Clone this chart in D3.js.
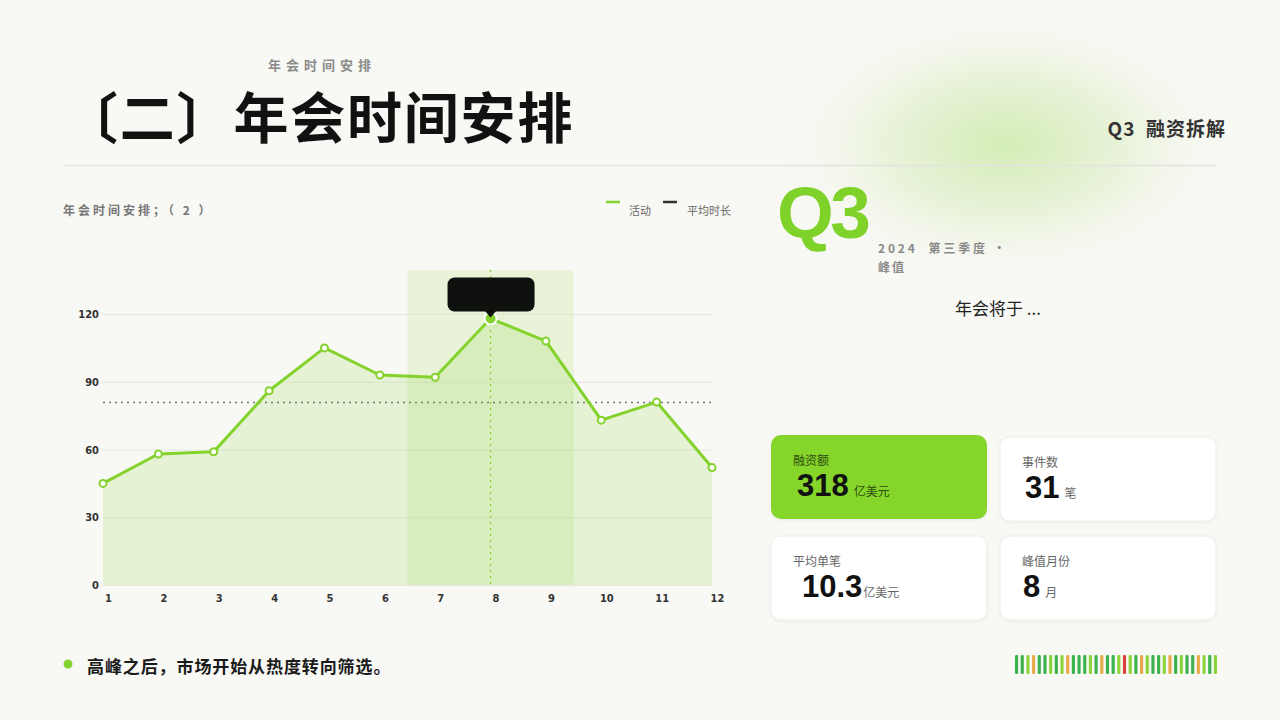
<!DOCTYPE html>
<html>
<head>
<meta charset="utf-8">
<script src="https://cdn.jsdelivr.net/npm/d3@7"></script>
<style>
  body { margin: 0; background: #f8f8f4; }
  svg { display: block; font-family: "Noto Sans CJK SC", "Noto Sans", sans-serif; }
  .tick text { font-family: "Liberation Sans Narrow", "DejaVu Sans Condensed", "Liberation Sans", sans-serif; font-weight: 700; font-size: 11px; fill: #333; }
</style>
</head>
<body>
<svg id="chart" width="1280" height="720"></svg>
<script>
// chart data
var months = [1, 2, 3, 4, 5, 6, 7, 8, 9, 10, 11, 12];
var activity = [45, 58, 59, 86, 105, 93, 92, 118, 108, 73, 81, 52];
var yTicks = [0, 30, 60, 90, 120];
var highlightMonths = [7, 9];
var peakMonth = 8;

// kpi cards
var cardLabels = ["融资额", "事件数", "平均单笔", "峰值月份"];
var cardValues = ["318", "31", "10.3", "8"];
var cardUnits = ["亿美元", "笔", "亿美元", "月"];

// colour strip codes: d = dark green, l = light green, o = orange, r = red
var stripCodes = ["d","d","l","o","d","d","l","d","l","o","d","d","d","l","d","o","d","d",
                  "l","r","l","d","o","l","d","d","l","o","d","l","d","d","o","l","d","l"];

var green = "#84d22c";
var svg = d3.select("#chart");
var defs = svg.append("defs");

// soft green glow top right
var glow = defs.append("radialGradient").attr("id", "glow");
glow.append("stop").attr("offset", "0%").attr("stop-color", "#d3ecb4").attr("stop-opacity", 1);
glow.append("stop").attr("offset", "50%").attr("stop-color", "#e3f1d0").attr("stop-opacity", 0.75);
glow.append("stop").attr("offset", "100%").attr("stop-color", "#f8f8f4").attr("stop-opacity", 0);
svg.append("ellipse").attr("cx", 1005).attr("cy", 145).attr("rx", 235).attr("ry", 140)
    .attr("fill", "url(#glow)");

var shadow = defs.append("filter").attr("id", "shadow").attr("x", "-10%").attr("y", "-10%")
    .attr("width", "120%").attr("height", "130%");
shadow.append("feDropShadow").attr("dx", 0).attr("dy", 1).attr("stdDeviation", 1.5)
    .attr("flood-color", "#000").attr("flood-opacity", 0.06);

// header
svg.append("text").attr("x", 322).attr("y", 70).attr("text-anchor", "middle")
    .attr("font-size", 13).attr("font-weight", 700).attr("letter-spacing", 5)
    .attr("fill", "#8a8a8a").text("年会时间安排");
svg.append("text").attr("x", 63).attr("y", 138)
    .attr("font-size", 55).attr("font-weight", 700).attr("letter-spacing", 1.8)
    .attr("fill", "#111").text("〔二〕年会时间安排");
svg.append("text").attr("x", 1226).attr("y", 136).attr("text-anchor", "end")
    .attr("font-size", 19).attr("font-weight", 700).attr("fill", "#333").attr("letter-spacing", 1)
    .attr("xml:space", "preserve").text("Q3  融资拆解");
svg.append("line").attr("x1", 63).attr("x2", 1216).attr("y1", 165.5).attr("y2", 165.5)
    .attr("stroke", "#e3e3e0").attr("stroke-width", 1.5);

// chart title + legend
svg.append("text").attr("x", 63).attr("y", 215)
    .attr("font-size", 12).attr("font-weight", 700).attr("letter-spacing", 3)
    .attr("fill", "#777").text("年会时间安排；（ 2 ）");
svg.append("line").attr("x1", 606).attr("x2", 620).attr("y1", 202).attr("y2", 202)
    .attr("stroke", green).attr("stroke-width", 2.5);
svg.append("text").attr("x", 629).attr("y", 215).attr("font-size", 11)
    .attr("fill", "#666").text("活动");
svg.append("line").attr("x1", 663).attr("x2", 677).attr("y1", 202).attr("y2", 202)
    .attr("stroke", "#333").attr("stroke-width", 2.5);
svg.append("text").attr("x", 687).attr("y", 215).attr("font-size", 11)
    .attr("fill", "#666").text("平均时长");

// chart area
var x = d3.scaleLinear().domain([1, 12]).range([103, 712]);
var y = d3.scaleLinear().domain([0, 120]).range([585, 314]);
var step = x(2) - x(1);
var g = svg.append("g");

// grid
g.append("g").attr("transform", "translate(103,0)")
    .call(d3.axisLeft(y).tickValues(yTicks).tickSize(-(712 - 103)).tickFormat(""))
    .call(function(sel) {
        sel.select(".domain").remove();
        sel.selectAll("line").attr("stroke", "#e6e6e2").attr("stroke-width", 1.2);
    });

// highlight band
g.append("rect")
    .attr("x", x(highlightMonths[0]) - step * 0.5)
    .attr("y", 270)
    .attr("width", x(highlightMonths[1]) - x(highlightMonths[0]) + step)
    .attr("height", y(0) - 270)
    .attr("rx", 4)
    .attr("fill", "#cdeaab").attr("fill-opacity", 0.38);

// area + line
var area = d3.area().x(function(d, i) { return x(months[i]); })
    .y0(y(0)).y1(function(d) { return y(d); });
var line = d3.line().x(function(d, i) { return x(months[i]); })
    .y(function(d) { return y(d); });
g.append("path").datum(activity).attr("d", area)
    .attr("fill", green).attr("fill-opacity", 0.16);

// average line
var avg = d3.mean(activity);
g.append("line").attr("x1", x(1)).attr("x2", x(12)).attr("y1", y(avg)).attr("y2", y(avg))
    .attr("stroke", "#777").attr("stroke-width", 1.5).attr("stroke-dasharray", "2,4");

// peak guide line
g.append("line").attr("x1", x(peakMonth)).attr("x2", x(peakMonth)).attr("y1", 270).attr("y2", y(0))
    .attr("stroke", green).attr("stroke-width", 1.2).attr("stroke-dasharray", "2,4");

g.append("path").datum(activity).attr("d", line)
    .attr("fill", "none").attr("stroke", green).attr("stroke-width", 3)
    .attr("stroke-linejoin", "round");

g.selectAll(".pt").data(activity).enter().append("circle")
    .attr("class", "pt")
    .attr("cx", function(d, i) { return x(months[i]); })
    .attr("cy", function(d) { return y(d); })
    .attr("r", function(d, i) { return months[i] === peakMonth ? 6 : 3.5; })
    .attr("fill", function(d, i) { return months[i] === peakMonth ? green : "#fff"; })
    .attr("stroke", function(d, i) { return months[i] === peakMonth ? "#fff" : green; })
    .attr("stroke-width", 2);

// tooltip box
var peakVal = activity[months.indexOf(peakMonth)];
var tipX = x(peakMonth), tipY = y(peakVal);
g.append("rect").attr("x", tipX - 43).attr("y", tipY - 41).attr("width", 87).attr("height", 34)
    .attr("rx", 7).attr("fill", "#0e110d");
g.append("path")
    .attr("d", "M" + (tipX - 6) + "," + (tipY - 8) + "L" + tipX + "," + (tipY - 1) + "L" + (tipX + 6) + "," + (tipY - 8) + "Z")
    .attr("fill", "#0e110d");

// axes
g.append("g").attr("transform", "translate(99,0)")
    .call(d3.axisLeft(y).tickValues(yTicks).tickSize(0).tickPadding(0))
    .call(function(sel) { sel.select(".domain").remove(); });
g.append("g").attr("transform", "translate(5,594)")
    .call(d3.axisBottom(x).tickValues(months).tickSize(0).tickPadding(0).tickFormat(d3.format("d")))
    .call(function(sel) { sel.select(".domain").remove(); });

// Q3 block
svg.append("text").attr("x", 777).attr("y", 238)
    .attr("font-family", "Liberation Sans, Arial, sans-serif")
    .attr("font-size", 73).attr("font-weight", 700).attr("letter-spacing", -3.5)
    .attr("fill", "#7fd22a").text("Q3");
svg.append("text").attr("x", 878).attr("y", 253)
    .attr("font-size", 12).attr("font-weight", 700).attr("letter-spacing", 2.8)
    .attr("fill", "#8a8a8a").attr("xml:space", "preserve").text("2024  第三季度 ·");
svg.append("text").attr("x", 878).attr("y", 272)
    .attr("font-size", 12).attr("font-weight", 700).attr("letter-spacing", 2)
    .attr("fill", "#8a8a8a").text("峰值");
svg.append("text").attr("x", 998).attr("y", 315).attr("text-anchor", "middle")
    .attr("font-size", 17).attr("fill", "#222").text("年会将于 ...");

// cards
var cardX = [771, 1000, 771, 1000];
var cardY = [435, 437, 536, 536];
var valueDx = [26, 25, 31, 23];
var cards = svg.selectAll(".card").data(cardLabels).enter().append("g")
    .attr("class", "card")
    .attr("transform", function(d, i) { return "translate(" + cardX[i] + "," + cardY[i] + ")"; });
cards.append("rect").attr("width", 216).attr("height", 84).attr("rx", 10)
    .attr("fill", function(d, i) { return i === 0 ? "#86d52b" : "#fff"; })
    .attr("stroke", function(d, i) { return i === 0 ? "none" : "#eeeeea"; })
    .attr("filter", "url(#shadow)");
cards.append("text").attr("x", 22).attr("y", 30)
    .attr("font-size", 12)
    .attr("fill", function(d, i) { return i === 0 ? "#2f4d12" : "#666"; })
    .text(function(d) { return d; });
cards.each(function(d, i) {
    var t = d3.select(this).append("text").attr("x", valueDx[i]).attr("y", 61);
    t.append("tspan").attr("font-family", "Liberation Sans, Arial, sans-serif")
        .attr("font-size", 31).attr("font-weight", 700).attr("fill", "#111")
        .text(cardValues[i]);
    t.append("tspan").attr("dx", i === 2 ? 1 : 5).attr("font-size", 12)
        .attr("fill", i === 0 ? "#2f4d12" : "#666").text(cardUnits[i]);
});

// bottom note
svg.append("circle").attr("cx", 68).attr("cy", 664).attr("r", 4.5).attr("fill", green);
svg.append("text").attr("x", 87).attr("y", 673)
    .attr("font-size", 17).attr("font-weight", 700).attr("letter-spacing", 0.9).attr("fill", "#1a1a1a")
    .text("高峰之后，市场开始从热度转向筛选。");

// colour strip
var stripColor = { d: "#3bb24b", l: "#8cd43a", o: "#e9a94a", r: "#d9413a" };
var sx = d3.scaleBand().domain(d3.range(stripCodes.length)).range([1015, 1217]).paddingInner(0.45);
svg.append("g").selectAll("rect").data(stripCodes).enter().append("rect")
    .attr("x", function(d, i) { return sx(i); })
    .attr("y", 655).attr("width", sx.bandwidth()).attr("height", 19).attr("rx", 1.2)
    .attr("fill", function(d) { return stripColor[d]; });
</script>
</body>
</html>
